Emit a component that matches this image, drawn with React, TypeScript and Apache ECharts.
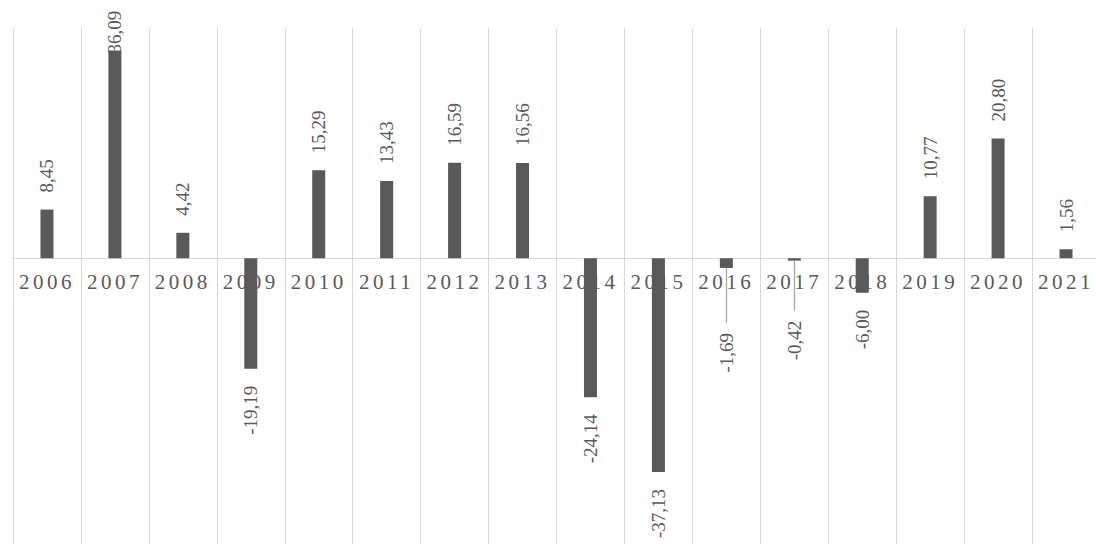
import React, { useEffect, useRef } from "react";
import * as echarts from "echarts";

const years = ["2006","2007","2008","2009","2010","2011","2012","2013","2014","2015","2016","2017","2018","2019","2020","2021"];
const values = [8.45, 36.09, 4.42, -19.19, 15.29, 13.43, 16.59, 16.56, -24.14, -37.13, -1.69, -0.42, -6.0, 10.77, 20.8, 1.56];
const yMin = -50;
const yMax = 40;

// layout tweaks (px), keyed by year
const LABEL_GAP = 17;
const leaderShift: Record<string, number> = { "2016": 48, "2017": 43 }; // labels pushed away, with a leader line
const labelDistanceOverride: Record<string, number> = { "2007": -3 }; // label kept inside the chart top

const GRID_TOP = 28;
const GRID_BOTTOM = -2;
const GRID_H = 544 - GRID_TOP - GRID_BOTTOM;
const PX_PER_UNIT = GRID_H / (yMax - yMin);

const FONT = "Liberation Serif";
const AXIS_LETTER_SPACING = 3.5;

export default function App() {
  const ref = useRef<HTMLDivElement>(null);
  useEffect(() => {
    if (!ref.current) return;
    const chart = echarts.init(ref.current, undefined, { renderer: "svg" });
    const data = values.map((v, i) => {
      const neg = v < 0;
      const y = years[i];
      let distance = LABEL_GAP;
      if (leaderShift[y] !== undefined) distance += leaderShift[y];
      if (labelDistanceOverride[y] !== undefined) distance = labelDistanceOverride[y];
      return {
        value: v,
        label: {
          position: neg ? "bottom" : "top",
          align: neg ? "right" : "left",
          distance,
        },
      };
    });
    const leaderLines = values
      .map((v, i) => ({ v, i }))
      .filter(({ i }) => leaderShift[years[i]] !== undefined)
      .map(({ v, i }) => {
        const lenPx = leaderShift[years[i]] + LABEL_GAP - 10;
        return [
          { coord: [i, v] },
          { coord: [i, v - lenPx / PX_PER_UNIT] },
        ];
      });
    const zeroOffset = -(GRID_H * (0 - yMin)) / (yMax - yMin);
    chart.setOption({
      animation: false,
      grid: {
        left: 13,
        right: -4,
        top: GRID_TOP,
        bottom: GRID_BOTTOM,
        containLabel: false,
        outerBoundsMode: "none",
      },
      xAxis: {
        type: "category",
        data: years,
        position: "bottom",
        offset: zeroOffset,
        axisLine: { show: true, onZero: false, lineStyle: { color: "#d9d9d9", width: 1 } },
        axisTick: { show: false },
        splitLine: { show: true, lineStyle: { color: "#d9d9d9", width: 1 } },
        axisLabel: {
          color: "#595959",
          fontFamily: FONT,
          fontSize: 21,
          margin: 13,
        },
      },
      yAxis: {
        type: "value",
        min: yMin,
        max: yMax,
        show: false,
        splitLine: { show: false },
      },
      series: [
        {
          type: "bar",
          data,
          barWidth: 13,
          itemStyle: { color: "#595959" },
          label: {
            show: true,
            rotate: 90,
            verticalAlign: "middle",
            color: "#595959",
            fontFamily: FONT,
            fontSize: 19,
            formatter: (p: any) => p.value.toFixed(2).replace(".", ","),
          },
          markLine: {
            silent: true,
            symbol: ["none", "none"],
            label: { show: false },
            lineStyle: { color: "#a6a6a6", width: 1.3, type: "solid" },
            data: leaderLines,
          },
        },
      ],
    });
    // widen the category labels' letter spacing, as in the reference
    try {
      const texts = ref.current.querySelectorAll("text");
      texts.forEach((t) => {
        if (years.indexOf((t.textContent || "").trim()) >= 0) {
          t.setAttribute("letter-spacing", String(AXIS_LETTER_SPACING));
        }
      });
    } catch (e) {
      /* ignore */
    }
    return () => chart.dispose();
  }, []);
  return (
    <div
      ref={ref}
      style={{ position: "fixed", left: 0, top: 0, width: 1096, height: 544, background: "#fff" }}
    />
  );
}
